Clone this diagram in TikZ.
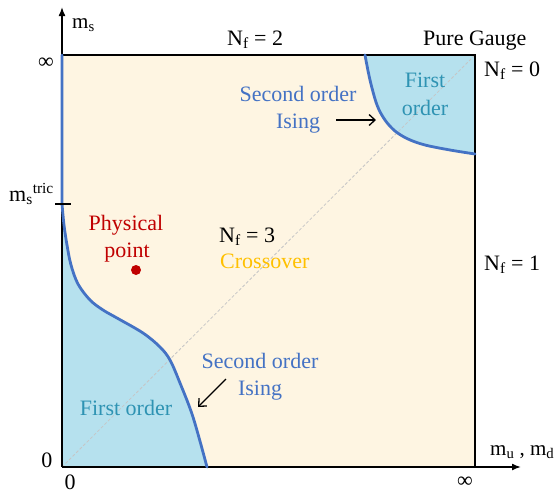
\documentclass[tikz,border=0pt]{standalone}
\usepackage{fontspec}
\setmainfont{Liberation Serif}
\usetikzlibrary{arrows.meta}
\definecolor{cream}{HTML}{FEF5E2}
\definecolor{lblue}{HTML}{B6E1EE}
\definecolor{cblue}{HTML}{4472C4}
\definecolor{teal1}{HTML}{2E93B3}
\definecolor{gold}{HTML}{FFC000}
\definecolor{dred}{HTML}{C00000}
\begin{document}
\begin{tikzpicture}[x=1pt,y=-1pt,
  lbl/.style={font=\fontsize{22}{27}\selectfont, inner sep=0pt, anchor=base},
  axlbl/.style={font=\fontsize{21}{25}\selectfont, inner sep=0pt, anchor=base west},
  ptr/.style={-{Straight Barb[length=6pt,width=11pt]}, line width=1.3pt, black},
  boundary/.style={cblue, line width=2.8pt, line cap=round, line join=round}]
\useasboundingbox (0,0) rectangle (555,493);
% regions
\fill[cream] (62,55) rectangle (475,467);
\fill[lblue] (62,204) plot[smooth,tension=0.55] coordinates {(62,204) (64,225) (67,245) (71,265) (78,284) (90,300) (103,310) (117,318) (143,333) (160,347) (170,360) (180,383) (193,417) (207,467)} -- (62,467) -- cycle;
\fill[lblue] (365,55) plot[smooth,tension=0.55] coordinates {(365,55) (370,80) (377,105) (385,120) (395,131) (408,139) (425,145) (450,150) (475,154)} -- (475,55) -- cycle;
% diagonal
\coordinate (origin) at (62,467);
\coordinate (corner) at (475,55);
\draw[gray!45, line width=0.8pt, dash pattern=on 3pt off 2pt] (origin) -- (corner);
% box and axes
\coordinate (xend) at (521,467);
\coordinate (yend) at (62,7);
\coordinate (topleft) at (62,55);
\coordinate (bottomright) at (475,467);
\draw[line width=1.5pt] (topleft) -- (corner) -- (bottomright);
\draw[line width=1.5pt, -{Latex[length=9pt,width=7pt]}] (origin) -- (xend);
\draw[line width=1.5pt, -{Latex[length=9pt,width=7pt]}] (origin) -- (yend);
% boundaries
\draw[boundary] (62,55) -- (62,204) plot[smooth,tension=0.55] coordinates {(62,204) (64,225) (67,245) (71,265) (78,284) (90,300) (103,310) (117,318) (143,333) (160,347) (170,360) (180,383) (193,417) (207,467)};
\draw[boundary] plot[smooth,tension=0.55] coordinates {(365,55) (370,80) (377,105) (385,120) (395,131) (408,139) (425,145) (450,150) (475,154)};
% tick
\coordinate (tickl) at (55,204);
\coordinate (tickr) at (71,204);
\draw[line width=1.3pt] (tickl) -- (tickr);
% axis labels
\node[axlbl] (ms) at (72,28) {m\textsubscript{s}};
\node[axlbl] (mumd) at (490,455) {m\textsubscript{u} , m\textsubscript{d}};
\node[lbl, anchor=center] (inftyl) at (46,63) {∞};
\node[lbl, anchor=base east] (mstric) at (54,201) {m\textsubscript{s}\textsuperscript{tric}};
\node[lbl] (zerol) at (47,467) {0};
\node[lbl] (zerob) at (70,489) {0};
\node[lbl, anchor=center] (inftyb) at (465,482) {∞};
% Nf labels
\node[lbl, anchor=base west] (nf2) at (227,45) {N\textsubscript{f} = 2};
\node[lbl, anchor=base west] (pg) at (423,45) {Pure Gauge};
\node[lbl, anchor=base west] (nf0) at (484,76) {N\textsubscript{f} = 0};
\node[lbl, anchor=base west] (nf1) at (484,270) {N\textsubscript{f} = 1};
\node[lbl, anchor=base west] (nf3) at (219,242) {N\textsubscript{f} = 3};
\node[lbl, anchor=base west, text=gold] (cross) at (220,268) {Crossover};
% upper right
\node[lbl, text=cblue] (so1a) at (298,101) {Second order};
\node[lbl, text=cblue] (so1b) at (298,128) {Ising};
\node[lbl, text=teal1] (fo1a) at (425,87) {First};
\node[lbl, text=teal1] (fo1b) at (425,115) {order};
\coordinate (a1s) at (336,120);
\coordinate (a1e) at (376,120);
\draw[ptr] (a1s) -- (a1e);
% lower left
\node[lbl, text=cblue] (so2a) at (260,368) {Second order};
\node[lbl, text=cblue] (so2b) at (260,395) {Ising};
\coordinate (a2s) at (226,379);
\coordinate (a2e) at (198,407);
\draw[ptr] (a2s) -- (a2e);
\node[lbl, text=teal1] (fo2) at (126,415) {First order};
% physical point
\node[lbl, text=dred] (pp1) at (126,230) {Physical};
\node[lbl, text=dred] (pp2) at (127,257) {point};
\fill[dred] (136,270) circle (5pt) node (dot) {};
\end{tikzpicture}
\end{document}
